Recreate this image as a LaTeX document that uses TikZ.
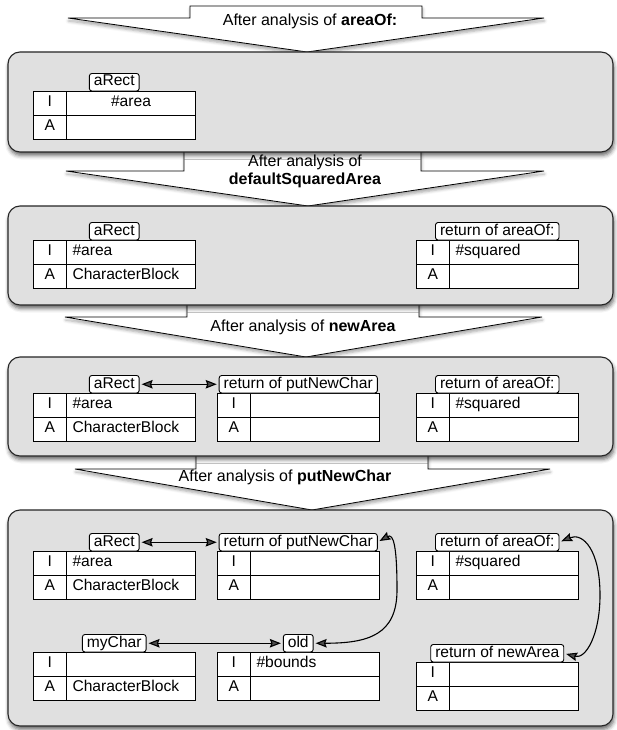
\documentclass[tikz,border=0pt]{standalone}
\usepackage{fontspec}
\setmainfont{Liberation Sans}
\usetikzlibrary{arrows.meta,shadows.blur,calc}
\newcommand{\myfs}{\fontsize{15.6}{18}\selectfont}
\newcommand{\myafs}{\fontsize{16}{18}\selectfont}
\tikzset{
 panel/.style={draw=black!85, line width=1.1pt, fill=black!12, rounded corners=12pt,
   blur shadow={shadow xshift=1pt, shadow yshift=-3.5pt, shadow blur radius=4pt, shadow opacity=60}},
 stagearrow/.style={draw=black, line width=0.8pt, fill=white, line join=miter,
   blur shadow={shadow xshift=0.5pt, shadow yshift=-3pt, shadow blur radius=3pt, shadow opacity=35}},
 kcell/.style={draw, line width=0.9pt, fill=white, minimum width=33.5pt, minimum height=24pt,
   inner sep=0pt, text height=11pt, text depth=3.5pt, font=\myfs, outer sep=0pt},
 vcell/.style={draw, line width=0.9pt, fill=white, text width=117pt, inner xsep=6pt, inner ysep=0pt,
   minimum height=24pt, text height=11pt, text depth=3.5pt, align=left, font=\myfs, outer sep=0pt},
 objlabel/.style={draw, line width=0.9pt, fill=white, rounded corners=2.5pt, inner xsep=4.5pt,
   inner ysep=0pt, minimum height=17.5pt, text height=11pt, text depth=3.5pt, font=\myfs, outer sep=0pt},
 stagetext/.style={font=\myafs, inner sep=0pt, anchor=base},
 link/.style={line width=1.1pt, shorten <=2.5pt, shorten >=2.5pt,
   {Stealth[length=11pt,width=8.5pt,inset=1.5pt]}-{Stealth[length=11pt,width=8.5pt,inset=1.5pt]}},
}
\newcommand{\objtab}[6][]{%
 \node[kcell, anchor=north west] (#2-ki) at (#3) {I};
 \node[vcell, #1, anchor=north west] (#2-vi) at (#2-ki.north east) {#5};
 \node[kcell, anchor=north west] (#2-ka) at (#2-ki.south west) {A};
 \node[vcell, #1, anchor=north west] (#2-va) at (#2-ka.north east) {#6};
 \node[objlabel, anchor=south] (#2) at ($(#2-ki.north west)!0.5!(#2-vi.north east)$) {#4};
}
\begin{document}
\begin{tikzpicture}[x=1pt,y=-1pt]
\useasboundingbox (0,0) rectangle (616,730);
% stage arrows
\draw[stagearrow] (190,6) -- (422,6) -- (422,18) -- (544,18) -- (307,52) -- (68,18) -- (190,18) -- cycle;
\draw[stagearrow] (184,140) -- (421,140) -- (421,171) -- (544,171) -- (308,206) -- (66,171) -- (184,171) -- cycle;
\draw[stagearrow] (187,295) -- (419,295) -- (419,317) -- (542,317) -- (306,357) -- (65,317) -- (187,317) -- cycle;
\draw[stagearrow] (196,445) -- (428,445) -- (428,469) -- (550,469) -- (312,510) -- (75,469) -- (196,469) -- cycle;
% panels
\draw[panel] (8,52) rectangle (613,152);
\draw[panel] (8,206) rectangle (613,305);
\draw[panel] (8,357) rectangle (613,456);
\draw[panel] (8,510) rectangle (613,726);
% stage texts
\node[stagetext] (s1) at (310,26) {After analysis of \textbf{areaOf:}};
\node[stagetext] (s2a) at (305,167) {After analysis of};
\node[stagetext] (s2b) at (305,185) {\textbf{defaultSquaredArea}};
\node[stagetext] (s3) at (303,331) {After analysis of \textbf{newArea}};
\node[stagetext] (s4) at (285,481) {After analysis of \textbf{putNewChar}};
% panel 1
\objtab[align=center]{t1a}{33,91}{aRect}{\#area}{}
% panel 2
\objtab{t2a}{33,240}{aRect}{\#area}{CharacterBlock}
\objtab{t2c}{416,240}{return of areaOf:}{\#squared}{}
% panel 3
\objtab{t3a}{33,393}{aRect}{\#area}{CharacterBlock}
\objtab{t3b}{217,393}{return of putNewChar}{}{}
\objtab{t3c}{416,393}{return of areaOf:}{\#squared}{}
\draw[link] (t3a.east) -- (t3b.west);
% panel 4
\objtab{t4a}{33,551}{aRect}{\#area}{CharacterBlock}
\objtab{t4b}{217,551}{return of putNewChar}{}{}
\objtab{t4c}{416,551}{return of areaOf:}{\#squared}{}
\objtab{t4d}{33,652}{myChar}{}{CharacterBlock}
\objtab{t4e}{217,652}{old}{\#bounds}{}
\objtab{t4f}{416,662}{return of newArea}{}{}
\coordinate (bendA) at (397,590);
\coordinate (bendB) at (600,595);
\draw[link] (t4a.east) -- (t4b.west);
\draw[link] (t4d.east) -- (t4e.west);
\draw[link] (t4b.east) .. controls +(16,-9) and +(0,-45) .. (bendA) .. controls +(0,45) and +(55,0) .. (t4e.east);
\draw[link] (t4c.east) .. controls +(24,-10) and +(0,-45) .. (bendB) .. controls +(0,40) and +(22,6) .. (t4f.east);
\end{tikzpicture}
\end{document}
